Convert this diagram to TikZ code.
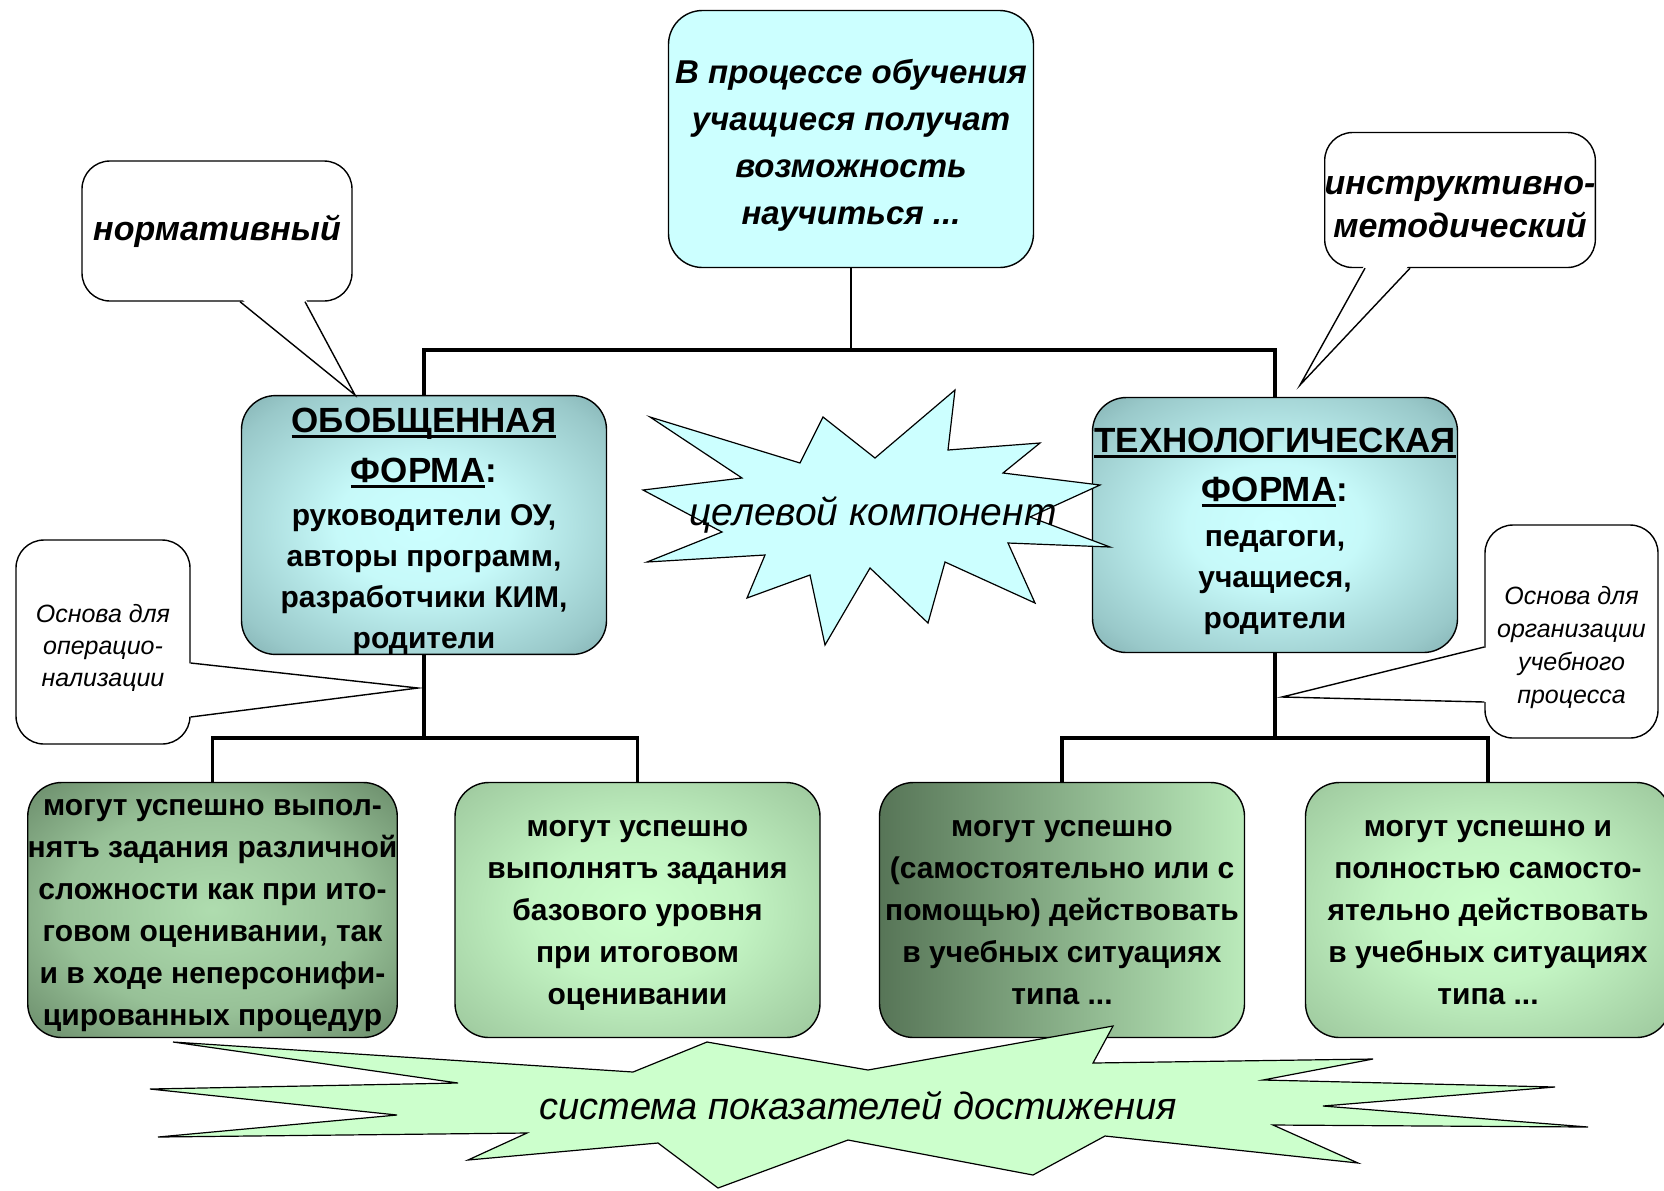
\documentclass[tikz,border=0pt]{standalone}
\usepackage{fontspec}
\setmainfont{Liberation Sans}
\usetikzlibrary{calc}

\definecolor{cyanlight}{HTML}{CCFFFF}
\definecolor{tealdark}{HTML}{5B8688}
\definecolor{greenlight}{HTML}{CCFFCC}
\definecolor{greendark}{HTML}{577557}

\pgfdeclareradialshading{cyanglow}{\pgfpoint{0bp}{0bp}}{color(0bp)=(cyanlight);
    color(12bp)=(cyanlight!95!tealdark); color(30bp)=(cyanlight!55!tealdark);
    color(42bp)=(tealdark!85!cyanlight); color(50bp)=(tealdark); color(75bp)=(tealdark)}
\pgfdeclareradialshading{greenglow}{\pgfpoint{0bp}{0bp}}{color(0bp)=(greenlight);
    color(14bp)=(greenlight!92!greendark); color(32bp)=(greenlight!65!greendark);
    color(45bp)=(greenlight!35!greendark); color(50bp)=(greendark); color(75bp)=(greendark)}
\pgfdeclareradialshading{greendim}{\pgfpoint{0bp}{0bp}}{color(0bp)=(greenlight!75!greendark);
    color(20bp)=(greenlight!55!greendark); color(42bp)=(greendark);
    color(75bp)=(greendark!85!black)}

\newsavebox\ulsave
\newcommand\ulbar[1]{\sbox\ulsave{#1}\rlap{\rule[-3pt]{\wd\ulsave}{1.4pt}}\usebox\ulsave}
\newcommand\firstup[1]{\rule{0pt}{#1}}
\newcommand\lastdown{\rule[-4pt]{0pt}{4pt}}

\begin{document}
\begin{tikzpicture}[x=0.5pt, y=-0.5pt,
    box/.style={draw, line width=0.7pt, rounded corners=17pt, minimum width=182.5pt,
        minimum height=127.5pt, inner sep=0pt, align=center},
    midbox/.style={box, shading=cyanglow,
        font=\fontsize{15}{20.5}\selectfont\bfseries},
    lowbox/.style={box, font=\fontsize{15}{21}\selectfont\bfseries},
    callbox/.style={draw, line width=0.7pt, fill=white, rounded corners=14pt,
        inner sep=0pt, align=center},
    bigcall/.style={callbox, font=\fontsize{17}{21.5}\selectfont\bfseries\itshape},
    smallcall/.style={callbox, font=\fontsize{12.5}{16}\selectfont\itshape},
    link/.style={line width=1.6pt},
    edge/.style={line width=0.7pt},
    burst/.style={draw, line width=0.6pt, line join=miter},
    bursttext/.style={font=\fontsize{19.5}{23}\selectfont\itshape}
]
    \fill[white] (0,0) rectangle (1664,1190);
    \useasboundingbox (0,0) rectangle (1664,1190);

    % Top box
    \node[box, fill=cyanlight, minimum height=128.5pt,
        font=\fontsize{16.5}{23.5}\selectfont\bfseries\itshape] (aim) at (851,139)
        {\firstup{18.5pt}В процессе обучения\\учащиеся получат\\возможность\\научиться ...};

    % Two forms
    \node[midbox] (general) at (424,525)
        {\firstup{18.3pt}{\fontsize{17.5}{20.5}\selectfont\ulbar{ОБОБЩЕННАЯ}}\\[4.5pt]
         {\fontsize{17.5}{20.5}\selectfont\ulbar{ФОРМА}:}\\[1pt]
         руководители ОУ,\\авторы программ,\\разработчики КИМ,\\родители};
    \node[midbox] (technol) at (1275,525)
        {\firstup{18.2pt}{\fontsize{17.5}{20.5}\selectfont\ulbar{ТЕХНОЛОГИЧЕСКАЯ}}\\[4pt]
         {\fontsize{17.5}{20.5}\selectfont\ulbar{ФОРМА}:}\\[2pt]
         педагоги,\\учащиеся,\\родители};

    % Tree lines
    \coordinate (topjoin) at (851,350);
    \coordinate (leftjoin) at (424,738);
    \coordinate (rightjoin) at (1275,738);
    \draw[line width=1pt] (aim.south) -- (topjoin);
    \draw[link, line width=2pt] (general.north) |- (topjoin) -| (technol.north);
    \draw[link] (general.south) -- (leftjoin);
    \draw[link] (technol.south) -- (rightjoin);

    % Results
    \node[lowbox, shading=greendim] (low1) at (212.5,910)
        {\firstup{14pt}могут успешно выпол-\\нятъ задания различной\\сложности как при ито-\\говом оценивании, так\\и в ходе неперсонифи-\\цированных процедур\lastdown};
    \node[lowbox, shading=greenglow] (low2) at (637.5,910)
        {\firstup{14pt}могут успешно\\выполнятъ задания\\базового уровня\\при итоговом\\оценивании\lastdown};
    \node[lowbox, left color=greendark, right color=greenlight!85!greendark] (low3) at (1062,910)
        {\firstup{14pt}могут успешно\\(самостоятельно или с\\помощью) действовать\\в учебных ситуациях\\типа ...\lastdown};
    \node[lowbox, shading=greenglow] (low4) at (1488,910)
        {\firstup{14pt}могут успешно и\\полностью самосто-\\ятельно действовать\\в учебных ситуациях\\типа ...\lastdown};
    \draw[link] (low1.north) |- (leftjoin) -| (low2.north);
    \draw[link] (low3.north) |- (rightjoin) -| (low4.north);

    % Callouts
    \node[bigcall, minimum width=135pt, minimum height=70pt] (norm) at (217,231) {нормативный};
    \coordinate (normtip) at (355,395);
    \fill[white] ($(norm.south)+(23,-4)$) -- (normtip) -- ($(norm.south)+(88,-4)$) -- cycle;
    \draw[edge] ($(norm.south)+(23,0)$) -- (normtip) -- ($(norm.south)+(88,0)$);

    \node[bigcall, minimum width=134.5pt, minimum height=67.5pt] (instr) at (1460,200)
        {\firstup{16.4pt}инструктивно-\\методический};
    \coordinate (instrtip) at (1300,385);
    \fill[white] ($(instr.south)+(-95,-4)$) -- (instrtip) -- ($(instr.south)+(-50,-4)$) -- cycle;
    \draw[edge] ($(instr.south)+(-95,0)$) -- (instrtip) -- ($(instr.south)+(-50,0)$);

    \node[smallcall, minimum width=87pt, minimum height=102pt] (basis) at (103,642)
        {\firstup{15pt}Основа для\\операцио-\\нализации};
    \coordinate (basistip) at (418,688);
    \fill[white] ($(basis.east)+(-4,21)$) -- (basistip) -- ($(basis.east)+(-4,75)$) -- cycle;
    \draw[edge] ($(basis.east)+(0,21)$) -- (basistip) -- ($(basis.east)+(0,75)$);

    \node[smallcall, minimum width=86.5pt, minimum height=106.5pt,
        font=\fontsize{12.5}{16.5}\selectfont\itshape] (plan) at (1571.5,631.5)
        {\firstup{25.5pt}Основа для\\организации\\учебного\\процесса};
    \coordinate (plantip) at (1282,697);
    \fill[white] ($(plan.west)+(4,15.5)$) -- (plantip) -- ($(plan.west)+(4,70.5)$) -- cycle;
    \draw[edge] ($(plan.west)+(0,15.5)$) -- (plantip) -- ($(plan.west)+(0,70.5)$);

    % Goal burst
    \filldraw[burst, fill=cyanlight] (650,417) -- (800,463) -- (823,417) -- (875,458)
        -- (955,390) -- (948,450) -- (1040,443) -- (1003,473) -- (1100,485) -- (1030,517)
        -- (1110,547) -- (1008,543) -- (1035,603) -- (945,562) -- (928,623) -- (870,568)
        -- (825,645) -- (810,575) -- (747,598) -- (765,555) -- (647,562) -- (722,532)
        -- (643,490) -- (742,478) -- cycle;
    \node[bursttext] (goal) at (873,515) {целевой компонент};

    % Indicator burst
    \filldraw[burst, fill=greenlight] (173,1042) -- (633,1072) -- (707,1042) -- (868,1070)
        -- (1113,1026) -- (1093,1063) -- (1373,1059) -- (1263,1080) -- (1555,1087)
        -- (1323,1106) -- (1588,1127) -- (1273,1125) -- (1358,1163) -- (1105,1136)
        -- (1033,1175) -- (848,1140) -- (718,1188) -- (658,1143) -- (468,1160)
        -- (527,1133) -- (158,1137) -- (397,1115) -- (150,1089) -- (458,1083) -- cycle;
    \node[bursttext, font=\fontsize{19}{23}\selectfont\itshape] (indic) at (858,1106)
        {система показателей достижения};
\end{tikzpicture}
\end{document}
